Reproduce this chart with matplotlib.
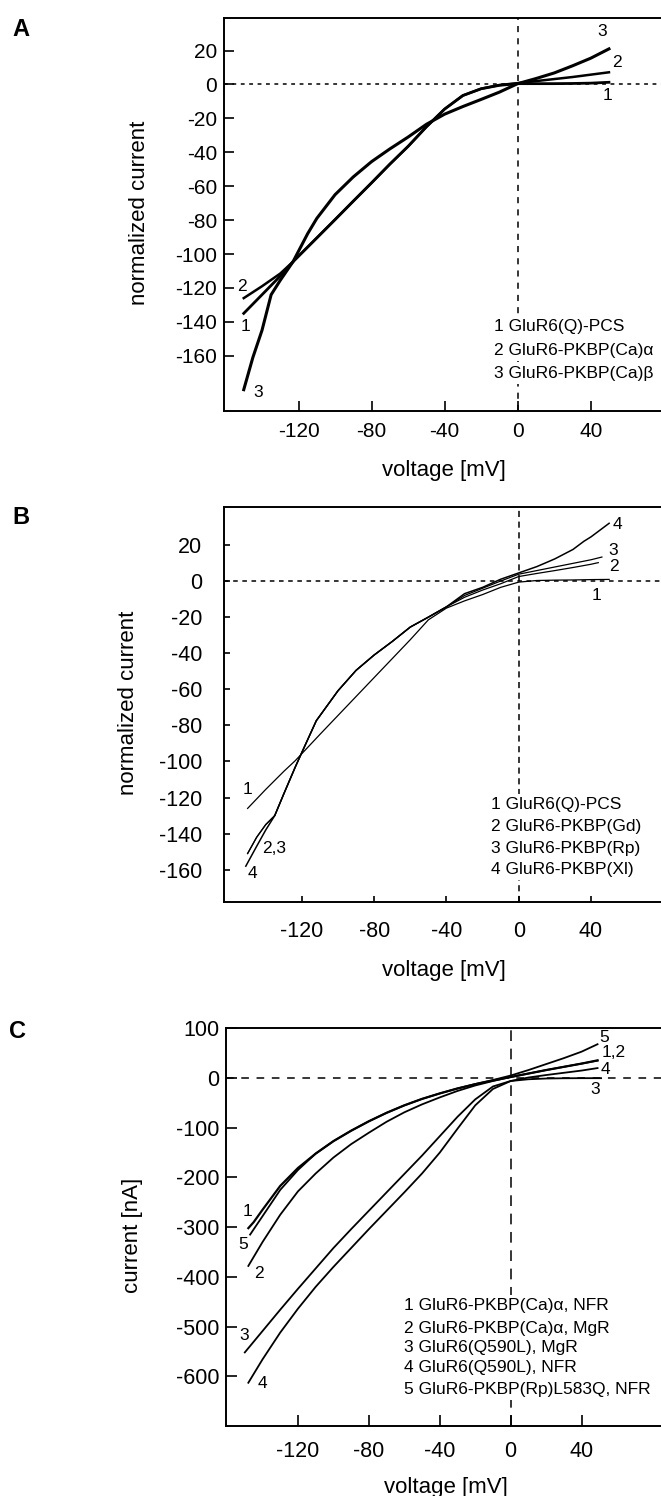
import matplotlib
matplotlib.use("Agg")
import matplotlib.pyplot as plt

plt.rcParams['font.family'] = ['Liberation Sans', 'DejaVu Sans']
plt.rcParams['axes.unicode_minus'] = False

# ---- panel A : normalized current ----
A_v1 = [-150, -140, -130, -123, -110, -100, -90, -80, -70, -60, -50, -40, -30, -20, -10, 0, 10, 20, 30, 40, 50]
A_i1 = [-135, -124, -113, -104.5, -90.5, -79.7, -68.8, -58, -47, -36.5, -25, -14.5, -6.5, -2.5, -0.5, 0.5, 0.5, 0.5, 0.6, 0.8, 1.3]
A_v2 = [-150, -140, -130, -123, -110, -100, -90, -80, -70, -60, -50, -40, -30, -20, -10, 0, 10, 20, 30, 40, 50]
A_i2 = [-126, -119, -111.5, -104.5, -90.5, -79.7, -68.8, -58, -47, -36.5, -25, -14.5, -6.5, -2.5, -0.3, 0.8, 2, 3.2, 4.4, 5.8, 7.2]
A_v3 = [-150, -145, -140, -135, -130, -123, -115, -110, -100, -90, -80, -70, -60, -50, -40, -30, -20, -10, 0, 10, 20, 30, 40, 50]
A_i3 = [-180, -161, -145, -124, -115.5, -104.5, -88, -79, -65, -54.5, -45.5, -38, -31, -23.5, -17.5, -13, -8.8, -4.5, 0.5, 3.5, 6.8, 11, 15.5, 21]
A_legend = ["1 GluR6(Q)-PCS", "2 GluR6-PKBP(Ca)α", "3 GluR6-PKBP(Ca)β"]

# ---- panel B : normalized current ----
B_v1 = [-150, -140, -130, -123.6, -110, -100, -90, -80, -70, -60, -50, -40, -30, -20, -10, 0, 10, 20, 30, 40, 50]
B_i1 = [-126, -115.5, -105.5, -99.5, -85, -74.5, -64, -53.5, -43, -32.5, -21.5, -15, -11, -7.5, -3.5, -0.6, 0.3, 0.5, 0.6, 0.8, 0.9]
B_v2 = [-150, -145, -140, -135, -130, -123.6, -120, -112, -100, -90, -80, -70, -60, -50, -40, -30, -20, -10, 0, 10, 20, 30, 40, 44]
B_i2 = [-151, -142, -135, -130, -118, -103, -95, -77.4, -60.8, -49.5, -41, -33.5, -25.5, -20, -14.3, -9, -5, -1.5, 2.5, 4.2, 5.8, 7.5, 9.3, 10.2]
B_v3 = [-150, -145, -140, -135, -130, -123.6, -120, -112, -100, -90, -80, -70, -60, -50, -40, -30, -20, -10, 0, 10, 20, 30, 40, 46]
B_i3 = [-151, -142, -135, -130, -118, -103, -95, -77.4, -60.8, -49.5, -41, -33.5, -25.5, -20, -14.3, -8, -4, 0, 3.8, 5.8, 7.8, 9.8, 11.8, 13.3]
B_v4 = [-151, -145, -140, -135, -130, -123.6, -120, -112, -100, -90, -80, -70, -60, -50, -40, -30, -20, -10, 0, 10, 17, 20, 30, 36, 40, 50]
B_i4 = [-158, -147, -138, -130, -118, -103, -95, -77.4, -60.8, -49.5, -41, -33.5, -25.5, -20, -14.3, -7, -3.5, 1, 4.5, 8, 11, 12.3, 17.5, 22, 24.5, 32]
B_legend = ["1 GluR6(Q)-PCS", "2 GluR6-PKBP(Gd)", "3 GluR6-PKBP(Rp)", "4 GluR6-PKBP(Xl)"]

# ---- panel C : current [nA] ----
C_v1 = [-148, -145, -140, -130, -120, -110, -100, -90, -80, -70, -60, -50, -40, -30, -20, -10, 0, 10, 20, 30, 40, 49]
C_i1 = [-302, -290, -265, -217, -181, -152, -127, -106, -87, -70, -55, -42, -31, -21, -12.5, -5, 2, 9, 16, 22.5, 29, 35.5]
C_v2 = [-148, -140, -130, -120, -110, -100, -90, -80, -70, -60, -50, -40, -30, -20, -10, 0, 10, 20, 30, 40, 49]
C_i2 = [-378, -330, -275, -228, -192, -160, -133, -110, -88, -69, -53, -39, -26, -15, -6, 2, 9, 16, 22.5, 29, 35]
C_v3 = [-150, -140, -130, -120, -110, -100, -90, -80, -70, -60, -50, -40, -30, -20, -10, 0, 10, 20, 30, 40, 51]
C_i3 = [-552, -509, -466, -424, -383, -342, -304, -267, -230, -193, -156, -117, -78, -43, -17, -6, -2.5, -1, -0.5, -0.3, -0.3]
C_v4 = [-148, -140, -130, -120, -110, -100, -90, -80, -70, -60, -50, -40, -30, -20, -10, 0, 10, 20, 30, 40, 49]
C_i4 = [-613, -566, -512, -464, -420, -380, -342, -304, -267, -230, -192, -150, -102, -55, -22, -6, 1, 6, 10.5, 15, 20]
C_v5 = [-147, -140, -130, -120, -110, -100, -90, -80, -70, -60, -50, -40, -30, -20, -10, 0, 10, 20, 30, 40, 49]
C_i5 = [-315, -278, -225, -185, -152, -127, -106, -87, -70, -55, -42, -31, -21, -12, -4, 5, 16, 28, 40, 53, 68]
C_legend = ["1 GluR6-PKBP(Ca)α, NFR", "2 GluR6-PKBP(Ca)α, MgR", "3 GluR6(Q590L), MgR",
            "4 GluR6(Q590L), NFR", "5 GluR6-PKBP(Rp)L583Q, NFR"]

xticks = [-120, -80, -40, 0, 40]
white = dict(facecolor='white', edgecolor='none', pad=2.5)


def setup(ax, xlim, ylim, yticks, ylabel, tsize, xpad, ypad, tlen, dash):
    ax.set_xlim(xlim)
    ax.set_ylim(ylim)
    ax.set_xticks(xticks)
    ax.set_yticks(yticks)
    ax.tick_params(direction='in', length=tlen, width=1.2, labelsize=tsize)
    ax.tick_params(axis='x', pad=xpad)
    ax.tick_params(axis='y', pad=ypad)
    ax.spines['right'].set_visible(False)
    for s in ['left', 'bottom', 'top']:
        ax.spines[s].set_linewidth(1.4)
    ax.axhline(0, color='k', lw=1.1, ls=(0, dash[0]), zorder=1)
    ax.axvline(0, color='k', lw=1.1, ls=(0, dash[1]), zorder=1)
    ax.set_xlabel('voltage [mV]', fontsize=16)
    ax.set_ylabel(ylabel, fontsize=16)


fig = plt.figure(figsize=(6.61, 14.96), dpi=100)

# A
ax = fig.add_axes([0.3389, 0.72547, 0.6611, 0.2627])
setup(ax, (-160.8, 78.5), (-192.4, 39.4), [20, 0, -20, -40, -60, -80, -100, -120, -140, -160],
      'normalized current', 15, 8, 5, 7, [(2.5, 3), (4, 4)])
ax.plot(A_v1, A_i1, color='k', lw=2.0)
ax.plot(A_v2, A_i2, color='k', lw=1.8)
ax.plot(A_v3, A_i3, color='k', lw=2.2)
for t, x, y in [("3", 46.2, 31.2), ("2", 54.3, 12.9), ("1", 49, -6.6),
                ("2", -150.8, -119.3), ("1", -149.1, -142.9), ("3", -142.2, -181.6)]:
    ax.text(x, y, t, fontsize=12.5, ha='center', va='center')
for k, y in enumerate([-142.9, -156.6, -170.4]):
    ax.text(-13, y, A_legend[k], fontsize=12.5, ha='left', va='center', bbox=white, zorder=3)
ax.xaxis.set_label_coords(0.503, -0.125)
ax.yaxis.set_label_coords(-0.169, 0.503)

# B
ax = fig.add_axes([0.33933, 0.39726, 0.66067, 0.26404])
setup(ax, (-162.9, 78.7), (-177.7, 41.2), [20, 0, -20, -40, -60, -80, -100, -120, -140, -160],
      'normalized current', 15.5, 14, 16, 4, [(3, 3), (4, 3)])
ax.plot(B_v1, B_i1, color='k', lw=0.9)
ax.plot(B_v2, B_i2, color='k', lw=0.9)
ax.plot(B_v3, B_i3, color='k', lw=0.9)
ax.plot(B_v4, B_i4, color='k', lw=1.1)
for t, x, y in [("4", 54.7, 31.6), ("3", 52.4, 17.2), ("2", 52.4, 7.9), ("1", 43, -7.8),
                ("1", -150, -115.4), ("2,3", -135.4, -148.1), ("4", -147.5, -162.3)]:
    ax.text(x, y, t, fontsize=12.5, ha='center', va='center')
for k, y in enumerate([-124.1, -136.1, -148.1, -159.7]):
    ax.text(-15.3, y, B_legend[k], fontsize=12.5, ha='left', va='center', bbox=white, zorder=3)
ax.xaxis.set_label_coords(0.503, -0.148)
ax.yaxis.set_label_coords(-0.195, 0.503)

# C
ax = fig.add_axes([0.34191, 0.04679, 0.65809, 0.26584])
setup(ax, (-160.6, 84.8), (-700, 100), [100, 0, -100, -200, -300, -400, -500, -600],
      'current [nA]', 15.5, 11, 5, 8, [(5, 5), (7, 5)])
ax.plot(C_v1, C_i1, color='k', lw=1.6)
ax.plot(C_v2, C_i2, color='k', lw=1.3)
ax.plot(C_v3, C_i3, color='k', lw=1.3)
ax.plot(C_v4, C_i4, color='k', lw=1.3)
ax.plot(C_v5, C_i5, color='k', lw=1.3)
for t, x, y in [("5", 52.5, 82.5), ("1,2", 57.9, 52.3), ("4", 53.2, 18.1), ("3", 47.7, -22.1),
                ("1", -148.3, -268.4), ("5", -150.7, -335.4), ("2", -141.8, -392.4),
                ("3", -150.2, -518.5), ("4", -140, -613.7)]:
    ax.text(x, y, t, fontsize=12.5, ha='center', va='center')
for k, y in enumerate([-458, -503, -543, -583, -626]):
    ax.text(-60.4, y, C_legend[k], fontsize=12.5, ha='left', va='center', bbox=white, zorder=3)
ax.xaxis.set_label_coords(0.506, -0.128)
ax.yaxis.set_label_coords(-0.19, 0.48)

fig.text(12 / 661, 1 - 29 / 1496, 'A', fontsize=17, fontweight='bold', ha='left', va='center')
fig.text(12 / 661, 1 - 517 / 1496, 'B', fontsize=17, fontweight='bold', ha='left', va='center')
fig.text(9 / 661, 1 - 1031 / 1496, 'C', fontsize=17, fontweight='bold', ha='left', va='center')

fig.savefig('out.png', dpi=100)
